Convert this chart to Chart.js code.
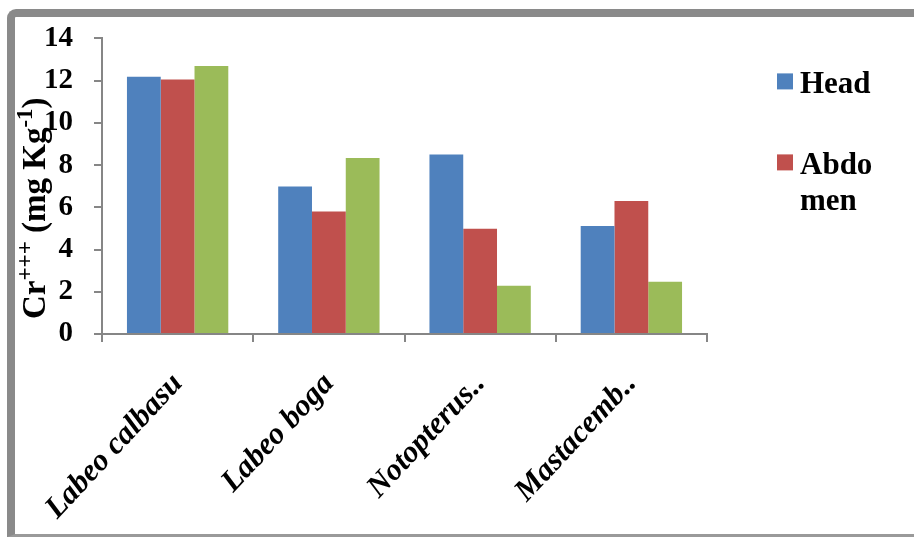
<!DOCTYPE html>
<html>
<head>
<meta charset="utf-8">
<script src="https://cdn.jsdelivr.net/npm/chart.js@4/dist/chart.umd.min.js"></script>
<style>
  html, body { margin: 0; padding: 0; background: #ffffff; }
  #wrap { position: relative; width: 914px; height: 537px; overflow: hidden; }
  #frame { position: absolute; left: 7px; top: 9px; width: 1000px; height: 528px;
           border-left: 8px solid #8a8a8a; border-top: 8px solid #8a8a8a; border-bottom: 3px solid #9a9a9a;
           border-top-left-radius: 9px; box-sizing: border-box; }
  canvas { position: absolute; left: 0; top: 0; }
</style>
</head>
<body>
<div id="wrap">
  <div id="frame"></div>
  <canvas id="c" width="914" height="537"></canvas>
</div>
<script>
const categories = ['Labeo calbasu', 'Labeo boga', 'Notopterus..', 'Mastacemb..'];
const seriesNames = ['Head', 'Abdomen', 'Tail'];
const legendLines = [['Head'], ['Abdo', 'men']];
const headValues = [12.18, 6.98, 8.5, 5.12];
const abdomenValues = [12.05, 5.8, 4.99, 6.3];
const tailValues = [12.69, 8.34, 2.28, 2.48];
const yTicks = [0, 2, 4, 6, 8, 10, 12, 14];
const colors = ['#4F81BD', '#C0504D', '#9BBB59'];

const SERIF = "'Liberation Serif', 'Times New Roman', serif";
const axisGray = '#868686';

const yTitlePlugin = {
  id: 'yTitle',
  afterDraw(chart) {
    const ctx = chart.ctx;
    const area = chart.chartArea;
    const parts = [
      { t: 'Cr', sup: false }, { t: '+++', sup: true },
      { t: ' (mg Kg', sup: false }, { t: '-1', sup: true }, { t: ')', sup: false }
    ];
    const size = 33, supSize = 23;
    ctx.save();
    let total = 0;
    parts.forEach(p => {
      ctx.font = 'bold ' + (p.sup ? supSize : size) + 'px ' + SERIF;
      p.w = ctx.measureText(p.t).width;
      total += p.w;
    });
    const cy = (area.top + area.bottom) / 2 + 22;
    ctx.translate(45, cy + total / 2);
    ctx.rotate(-Math.PI / 2);
    ctx.fillStyle = '#000';
    ctx.textBaseline = 'alphabetic';
    ctx.textAlign = 'left';
    let x = 0;
    parts.forEach(p => {
      ctx.font = 'bold ' + (p.sup ? supSize : size) + 'px ' + SERIF;
      ctx.fillText(p.t, x, p.sup ? -13 : 0);
      x += p.w;
    });
    ctx.restore();
  }
};

const legendPlugin = {
  id: 'customLegend',
  afterDraw(chart) {
    const ctx = chart.ctx;
    const area = chart.chartArea;
    const x0 = area.right + 70;
    const tops = [area.top + 35, area.top + 116];
    ctx.save();
    ctx.font = 'bold 31px ' + SERIF;
    ctx.textBaseline = 'alphabetic';
    ctx.textAlign = 'left';
    legendLines.forEach((lines, i) => {
      const y = tops[i];
      ctx.fillStyle = colors[i];
      ctx.fillRect(x0, y, 16, 16);
      ctx.fillStyle = '#000';
      lines.forEach((ln, j) => {
        ctx.fillText(ln, x0 + 23, y + 20 + j * 36);
      });
    });
    ctx.restore();
  }
};

new Chart(document.getElementById('c'), {
  type: 'bar',
  data: {
    labels: categories,
    datasets: [
      { label: seriesNames[0], data: headValues, backgroundColor: colors[0] },
      { label: seriesNames[1], data: abdomenValues, backgroundColor: colors[1] },
      { label: seriesNames[2], data: tailValues, backgroundColor: colors[2] }
    ]
  },
  options: {
    responsive: false,
    animation: false,
    layout: { padding: { left: 0, top: 38, right: 207, bottom: 0 } },
    datasets: { bar: { categoryPercentage: 0.67, barPercentage: 1.0 } },
    plugins: { legend: { display: false }, tooltip: { enabled: false }, title: { display: false } },
    scales: {
      x: {
        afterFit(scale) { scale.height = 203; },
        grid: { display: true, drawOnChartArea: false, drawTicks: true, tickLength: 8, color: axisGray, lineWidth: 2, offset: true },
        border: { display: true, color: axisGray, width: 2 },
        ticks: {
          minRotation: 47, maxRotation: 47, autoSkip: false, padding: 24,
          color: '#000',
          font: { family: SERIF, size: 31, weight: 'bold', style: 'italic' }
        }
      },
      y: {
        min: 0, max: 14,
        afterFit(scale) { scale.width = 102; },
        afterBuildTicks(scale) { scale.ticks = yTicks.map(v => ({ value: v })); },
        grid: { display: true, drawOnChartArea: false, drawTicks: true, tickLength: 8, color: axisGray, lineWidth: 2 },
        border: { display: true, color: axisGray, width: 2 },
        ticks: {
          padding: 21, color: '#000',
          font: { family: SERIF, size: 29, weight: 'bold' }
        }
      }
    }
  },
  plugins: [yTitlePlugin, legendPlugin]
});
</script>
</body>
</html>
